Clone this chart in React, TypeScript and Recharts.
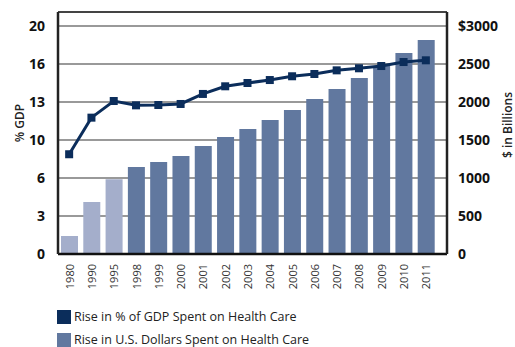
import React from 'react';
import {
  ComposedChart,
  Bar,
  Line,
  XAxis,
  YAxis,
  CartesianGrid,
  ReferenceLine,
  Legend,
  Cell,
} from 'recharts';

const years = ['1980', '1990', '1995', '1998', '1999', '2000', '2001', '2002', '2003', '2004', '2005', '2006', '2007', '2008', '2009', '2010', '2011'];
const spendingBillions = [237, 684, 983, 1145, 1211, 1289, 1421, 1539, 1645, 1763, 1895, 2039, 2171, 2316, 2474, 2645, 2816];
const gdpPercent = [8.75, 11.96, 13.42, 13.04, 13.07, 13.16, 14.04, 14.71, 15.0, 15.26, 15.59, 15.79, 16.11, 16.29, 16.49, 16.84, 16.99];
const gdpTicks = [0, 10 / 3, 20 / 3, 10, 40 / 3, 50 / 3, 20];
const gdpTickLabels = ['0', '3', '6', '10', '13', '16', '20'];
const dollarTicks = [0, 500, 1000, 1500, 2000, 2500, 3000];
const dollarTickLabels = ['0', '500', '1000', '1500', '2000', '2500', '$3000'];
const boundaryTicks = [1, 2, 3, 4, 5, 6, 7, 8, 9, 10, 11, 12, 13, 14, 15, 16, 17];
const lineLegend = 'Rise in % of GDP Spent on Health Care';
const barLegend = 'Rise in U.S. Dollars Spent on Health Care';
const leftTitle = '% GDP';
const rightTitle = '$ in Billions';

const data = years.map((year, i) => ({
  year,
  spending: spendingBillions[i],
  gdp: gdpPercent[i],
}));

const LINE_COLOR = '#0b2d5b';
const BAR_COLOR = '#61789f';
const BAR_LIGHT = '#a4aecb';
const FONT = '"Open Sans", "DejaVu Sans", sans-serif';

const GDP_MAX = 20 * 242 / 228;
const USD_MAX = 3000 * 242 / 228;
const BOUNDARY_MAX = 17 * 389 / 379;

const YearTick = (props: any) => {
  const { x, y, payload } = props;
  return (
    <text
      x={x}
      y={y}
      transform={`rotate(-90, ${x}, ${y})`}
      textAnchor="end"
      dominantBaseline="central"
      fontFamily={FONT}
      fontSize={11}
      fill="#333"
    >
      {payload.value}
    </text>
  );
};

const SquareDot = (props: any) => {
  const { cx, cy, index } = props;
  return <rect key={`dot-${index}`} x={cx - 4} y={cy - 4} width={8} height={8} fill={LINE_COLOR} />;
};

const LegendContent = () => (
  <div style={{ fontFamily: FONT, fontSize: 12.5, color: '#222', whiteSpace: 'nowrap' }}>
    <div style={{ display: 'flex', alignItems: 'center', height: 23 }}>
      <span style={{ display: 'inline-block', width: 14, height: 14, background: LINE_COLOR, marginRight: 3 }} />
      <span>{lineLegend}</span>
    </div>
    <div style={{ display: 'flex', alignItems: 'center', height: 23 }}>
      <span style={{ display: 'inline-block', width: 14, height: 14, background: BAR_COLOR, marginRight: 3 }} />
      <span>{barLegend}</span>
    </div>
  </div>
);

const LeftTitle = (props: any) => {
  const vb = props.viewBox || { x: 0, y: 12, width: 58, height: 242 };
  const cx = 19;
  const cy = vb.y + vb.height / 2 - 10;
  return (
    <text
      x={cx}
      y={cy}
      transform={`rotate(-90, ${cx}, ${cy})`}
      textAnchor="middle"
      dominantBaseline="central"
      fontFamily={FONT}
      fontSize={12}
      fontWeight={600}
      fill="#222"
    >
      {leftTitle}
    </text>
  );
};

const RightTitle = (props: any) => {
  const vb = props.viewBox || { x: 447, y: 12, width: 68, height: 242 };
  const cx = 507;
  const cy = vb.y + vb.height / 2 - 8;
  return (
    <text
      x={cx}
      y={cy}
      transform={`rotate(-90, ${cx}, ${cy})`}
      textAnchor="middle"
      dominantBaseline="central"
      fontFamily={FONT}
      fontSize={12}
      fontWeight={600}
      fill="#222"
    >
      {rightTitle}
    </text>
  );
};

export default function App() {
  return (
    <div style={{ position: 'absolute', left: 0, top: 0, width: 515, height: 347, background: '#fff' }}>
      <ComposedChart
        width={515}
        height={347}
        data={data}
        margin={{ top: 12, right: 0, bottom: 0, left: 0 }}
      >
        <CartesianGrid
          yAxisId="l"
          vertical={false}
          stroke="#777"
          strokeWidth={1.3}
        />
        <XAxis
          dataKey="year"
          xAxisId="cat"
          interval={0}
          height={93}
          padding={{ left: 0, right: 10 }}
          tickLine={false}
          tickSize={0}
          tickMargin={10}
          axisLine={{ stroke: '#111', strokeWidth: 2.5 }}
          tick={<YearTick />}
        />
        <XAxis
          xAxisId="bnd"
          type="number"
          domain={[0, BOUNDARY_MAX]}
          ticks={boundaryTicks}
          allowDataOverflow
          mirror
          height={0}
          axisLine={false}
          tickSize={4}
          tickLine={{ stroke: '#111', strokeWidth: 1.5 }}
          tickFormatter={() => ''}
        />
        <YAxis
          yAxisId="l"
          orientation="left"
          width={58}
          domain={[0, GDP_MAX]}
          ticks={gdpTicks}
          interval={0}
          tickLine={false}
          tickSize={0}
          tickMargin={13}
          axisLine={{ stroke: '#222', strokeWidth: 2.5 }}
          tick={{ fontFamily: FONT, fontSize: 14, fontWeight: 700, fill: '#111' }}
          tickFormatter={(_v: number, i: number) => gdpTickLabels[i]}
          label={{ content: <LeftTitle /> }}
        />
        <YAxis
          yAxisId="r"
          orientation="right"
          width={68}
          domain={[0, USD_MAX]}
          ticks={dollarTicks}
          interval={0}
          tickLine={false}
          tickSize={0}
          tickMargin={11}
          axisLine={{ stroke: '#222', strokeWidth: 2.5 }}
          tick={{ fontFamily: FONT, fontSize: 14, fontWeight: 700, fill: '#111', textAnchor: 'start' }}
          tickFormatter={(_v: number, i: number) => dollarTickLabels[i]}
          label={{ content: <RightTitle /> }}
        />
        <ReferenceLine yAxisId="l" xAxisId="cat" y={GDP_MAX} stroke="#444" strokeWidth={2} />
        <Bar
          dataKey="spending"
          yAxisId="r"
          xAxisId="cat"
          barSize={17}
          isAnimationActive={false}
        >
          {data.map((d) => (
            <Cell key={d.year} fill={Number(d.year) < 1998 ? BAR_LIGHT : BAR_COLOR} />
          ))}
        </Bar>
        <Line
          dataKey="gdp"
          yAxisId="l"
          xAxisId="cat"
          type="linear"
          stroke={LINE_COLOR}
          strokeWidth={3}
          dot={<SquareDot />}
          activeDot={false}
          isAnimationActive={false}
        />
        <Legend
          layout="horizontal"
          verticalAlign="middle"
          align="center"
          content={<LegendContent />}
          wrapperStyle={{ left: 57, top: 305, width: 400, height: 46 }}
        />
      </ComposedChart>
    </div>
  );
}
